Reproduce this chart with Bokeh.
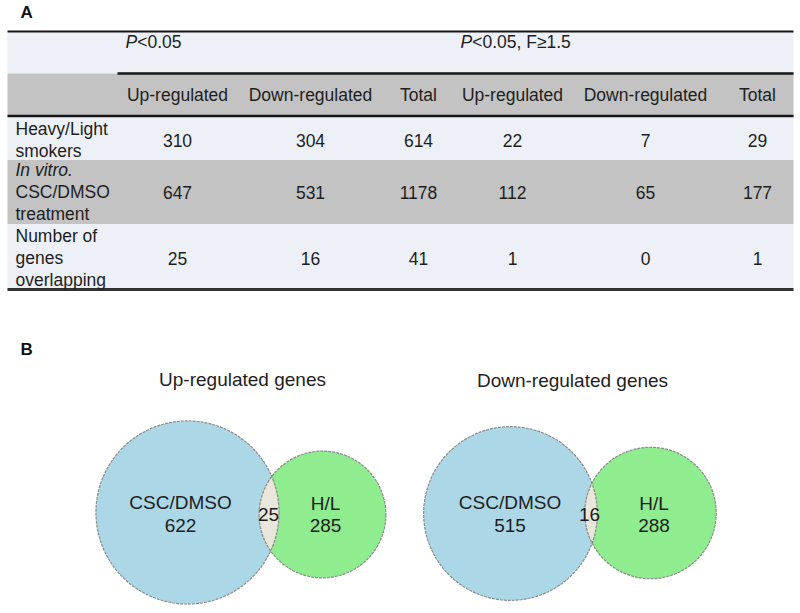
import numpy as np
from bokeh.plotting import figure
from bokeh.models import Range1d
from bokeh.core.properties import value
from bokeh.embed import file_html
from bokeh.resources import INLINE

# ---------------- data ----------------
group_headers = ["<0.05", "<0.05, F\u22651.5"]          # each preceded by an italic "P"
col_headers = ["Up-regulated", "Down-regulated", "Total",
               "Up-regulated", "Down-regulated", "Total"]
row_labels = [["Heavy/Light", "smokers"],
              ["In vitro.", "CSC/DMSO", "treatment"],
              ["Number of", "genes", "overlapping"]]
heavy_light = [310, 304, 614, 22, 7, 29]
csc_dmso = [647, 531, 1178, 112, 65, 177]
overlapping = [25, 16, 41, 1, 0, 1]
table_rows = [heavy_light, csc_dmso, overlapping]

venn_titles = ["Up-regulated genes", "Down-regulated genes"]
venn_set_names = ["CSC/DMSO", "H/L"]
venn_csc_only = [622, 515]
venn_overlap = [25, 16]
venn_hl_only = [285, 288]

# ---------------- layout / style ----------------
FONT = value("Liberation Sans")
TXT = "#1e1e1e"
LIGHT = "#edf0f7"
GRAY = "#c3c3c3"
TBL_L, TBL_R = 7, 793
col_x = [177, 310, 418, 512, 645, 757]
group_x = [125, 460]
band_edges = [31, 73, 115.5, 159.5, 223.5, 289]
band_fill = [LIGHT, GRAY, LIGHT, GRAY, LIGHT]
row_center = [139.5, 191.5, 257.5]
line_step = 22
tsize = "17.5px"
W, H = 794, 607

p = figure(width=W, height=H, x_range=Range1d(0, W), y_range=Range1d(H, 0),
           output_backend="svg", toolbar_location=None, min_border=0,
           x_axis_location=None, y_axis_location=None)
p.grid.visible = False
p.outline_line_color = None
p.background_fill_color = "white"
p.border_fill_color = "white"

# table bands
p.quad(left=[TBL_L] * 5, right=[TBL_R] * 5, top=band_edges[:-1], bottom=band_edges[1:],
       fill_color=band_fill, line_color=None)

# rules
p.segment(x0=[TBL_L, 117, TBL_L, TBL_L], x1=[TBL_R] * 4,
          y0=[31, 73, 115.5, 289], y1=[31, 73, 115.5, 289],
          line_color=["#151515", "#151515", "#151515", "#333333"],
          line_width=[2, 2.5, 2.5, 3])

# panel letters
p.text(x=[20, 20], y=[12, 349], text=["A", "B"], text_font=FONT, text_font_style="bold",
       text_font_size="17px", text_color="#111111", text_baseline="middle")

# group headers
p.text(x=group_x, y=[41, 41], text=["P", "P"], text_font=FONT, text_font_style="italic",
       text_font_size=tsize, text_color=TXT, text_baseline="middle")
p.text(x=[gx + 11.7 for gx in group_x], y=[41, 41], text=group_headers, text_font=FONT,
       text_font_size=tsize, text_color=TXT, text_baseline="middle")

# column headers
p.text(x=col_x, y=[94.5] * 6, text=col_headers, text_font=FONT, text_font_size=tsize,
       text_color=TXT, text_align="center", text_baseline="middle")

# row labels
for i, lines in enumerate(row_labels):
    n = len(lines)
    ys = [row_center[i] + (k - (n - 1) / 2) * line_step for k in range(n)]
    for k in range(n):
        style = "italic" if (i == 1 and k == 0) else "normal"
        p.text(x=[15], y=[ys[k]], text=[lines[k]], text_font=FONT, text_font_style=style,
               text_font_size=tsize, text_color=TXT, text_baseline="middle")

# table values
for i, vals in enumerate(table_rows):
    p.text(x=col_x, y=[row_center[i]] * 6, text=[str(v) for v in vals], text_font=FONT,
           text_font_size=tsize, text_color=TXT, text_align="center", text_baseline="middle")

# ---------------- Venn diagrams ----------------
venn_scale = [3.6, 3.77]
blue_c = [(187, 512), (510, 513)]
green_c = [(322, 514), (650, 512.5)]
title_pos = [(242, 379), (572, 380)]
BLUE = "#acd7e6"
GREEN = "#8fec8f"
LENS = "#e9e6dc"


def lens_polygon(ca, ra, cb, rb, n=60):
    (xa, ya), (xb, yb) = ca, cb
    d = np.hypot(xb - xa, yb - ya)
    phi = np.arctan2(yb - ya, xb - xa)
    a = (d ** 2 + ra ** 2 - rb ** 2) / (2 * d)
    ta = np.arccos(a / ra)
    tb = np.arccos((d - a) / rb)
    t1 = np.linspace(phi - ta, phi + ta, n)
    t2 = np.linspace(phi + np.pi - tb, phi + np.pi + tb, n)
    xs = np.concatenate([xa + ra * np.cos(t1), xb + rb * np.cos(t2)])
    ys = np.concatenate([ya + ra * np.sin(t1), yb + rb * np.sin(t2)])
    return xs, ys


for j in range(2):
    k = venn_scale[j]
    r_blue = k * np.sqrt(venn_csc_only[j] + venn_overlap[j])
    r_green = k * np.sqrt(venn_hl_only[j] + venn_overlap[j])
    p.circle(x=[blue_c[j][0]], y=[blue_c[j][1]], radius=r_blue, fill_color=BLUE, line_color=None)
    p.circle(x=[green_c[j][0]], y=[green_c[j][1]], radius=r_green, fill_color=GREEN, line_color=None)
    lx, ly = lens_polygon(blue_c[j], r_blue, green_c[j], r_green)
    p.patch(x=lx, y=ly, fill_color=LENS, line_color=None)
    p.circle(x=[blue_c[j][0], green_c[j][0]], y=[blue_c[j][1], green_c[j][1]],
             radius=[r_blue, r_green], fill_color=None, line_color="#8c8c8c",
             line_width=1.2, line_dash="3 1")

    p.text(x=[title_pos[j][0]], y=[title_pos[j][1]], text=[venn_titles[j]], text_font=FONT,
           text_font_size="19px", text_color=TXT, text_align="center", text_baseline="middle")
    bx = blue_c[j][0] - (7 if j == 0 else 0.5)
    gx = green_c[j][0] + (3 if j == 0 else 3.5)
    lens_x = [268, 589][j]
    p.text(x=[bx, bx, gx, gx], y=[502, 524.5, 502.5, 525],
           text=[venn_set_names[0], str(venn_csc_only[j]), venn_set_names[1], str(venn_hl_only[j])],
           text_font=FONT, text_font_size="19px", text_color=TXT,
           text_align="center", text_baseline="middle")
    p.text(x=[lens_x], y=[513.5], text=[str(venn_overlap[j])], text_font=FONT,
           text_font_size="19px", text_color=TXT, text_align="center", text_baseline="middle")

open("out.html", "w").write(file_html(p, INLINE))
